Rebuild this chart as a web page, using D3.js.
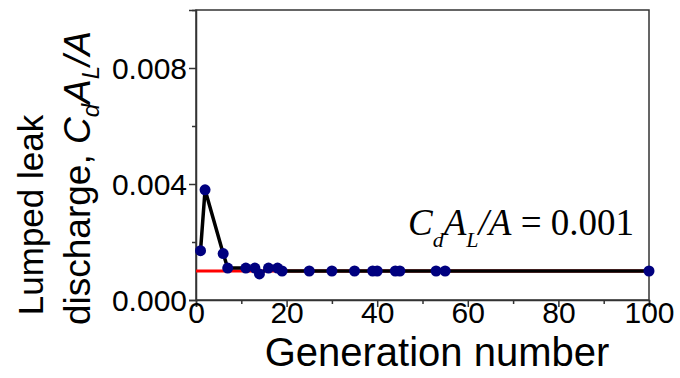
<!DOCTYPE html>
<html>
<head>
<meta charset="utf-8">
<script src="https://cdn.jsdelivr.net/npm/d3@7"></script>
<style>
  html, body { margin: 0; padding: 0; background: #fff; }
  svg { display: block; }
</style>
</head>
<body>
<svg id="chart" width="680" height="378"></svg>
<script>
// Lumped leak discharge per generation
const generations = [1, 2, 6, 7, 11, 13, 14, 16, 18, 19, 25, 30, 35, 39, 40, 44, 45, 53, 55, 100];
const discharge = [0.0017, 0.0038, 0.0016, 0.0011, 0.0011, 0.0011, 0.0009, 0.0011, 0.0011, 0.0010,
                   0.0010, 0.0010, 0.0010, 0.0010, 0.0010, 0.0010, 0.0010, 0.0010, 0.0010, 0.0010];
// Target value drawn as a horizontal reference line
const targetValue = 0.001;
const targetRange = [0, 100];
const xTicks = [0, 20, 40, 60, 80, 100];
const xMinorTicks = [10, 30, 50, 70, 90];
const yTicks = [0, 0.004, 0.008];
const yMinorTicks = [0.002, 0.006, 0.010];

const W = 680, H = 378;
const margin = { left: 196, right: 31, top: 10, bottom: 78 };
const svg = d3.select("#chart");

const x = d3.scaleLinear().domain([0, 100]).range([margin.left, W - margin.right]);
const y = d3.scaleLinear().domain([0, 0.01]).range([H - margin.bottom, margin.top]);

const sans = "'Liberation Sans', Arial, sans-serif";
const serif = "'Liberation Serif', 'Times New Roman', serif";
const axisColor = "#333";

// Frame
svg.append("rect")
  .attr("x", x(0)).attr("y", y(0.01))
  .attr("width", x(100) - x(0)).attr("height", y(0) - y(0.01))
  .attr("fill", "none").attr("stroke", axisColor).attr("stroke-width", 1.5);

// Axes
const xAxis = svg.append("g")
  .attr("transform", `translate(0,${y(0)})`)
  .call(d3.axisBottom(x).tickValues(xTicks).tickFormat(d3.format("d")).tickSize(7).tickPadding(0));
svg.append("g")
  .attr("transform", `translate(0,${y(0)})`)
  .call(d3.axisBottom(x).tickValues(xMinorTicks).tickFormat("").tickSize(4))
  .call(g => g.select(".domain").remove());

const yAxis = svg.append("g")
  .attr("transform", `translate(${x(0)},0)`)
  .call(d3.axisLeft(y).tickValues(yTicks).tickFormat(d3.format(".3f")).tickSize(7).tickPadding(2));
svg.append("g")
  .attr("transform", `translate(${x(0)},0)`)
  .call(d3.axisLeft(y).tickValues(yMinorTicks).tickFormat("").tickSize(4))
  .call(g => g.select(".domain").remove());

svg.selectAll(".domain, .tick line").attr("stroke", axisColor).attr("stroke-width", 1.5);
svg.selectAll(".tick text")
  .attr("font-family", sans).attr("font-size", 30).attr("fill", "#000");
xAxis.selectAll(".tick text").attr("y", 23).attr("dy", 0);
yAxis.selectAll(".tick text").attr("dy", "0.36em");

// Reference line at the target value
svg.append("line")
  .attr("x1", x(targetRange[0])).attr("x2", x(targetRange[1]))
  .attr("y1", y(targetValue)).attr("y2", y(targetValue))
  .attr("stroke", "#ff0000").attr("stroke-width", 3);

// Connecting line
const points = generations.map((g, i) => [g, discharge[i]]);
svg.append("path")
  .datum(points)
  .attr("d", d3.line().x(d => x(d[0])).y(d => y(d[1])))
  .attr("fill", "none").attr("stroke", "#000").attr("stroke-width", 3.5);

// Markers
svg.append("g").selectAll("circle")
  .data(points).join("circle")
  .attr("cx", d => x(d[0])).attr("cy", d => y(d[1]))
  .attr("r", 5.5).attr("fill", "#00007f");

// Axis titles
svg.append("text")
  .attr("x", 437).attr("y", 366)
  .attr("text-anchor", "middle")
  .attr("font-family", sans).attr("font-size", 40)
  .text("Generation number");

svg.append("text")
  .attr("transform", "translate(0,215) rotate(-90)")
  .attr("text-anchor", "middle")
  .attr("font-family", sans).attr("font-size", 35)
  .append("tspan").attr("x", 0).attr("y", 43).text("Lumped leak");

// second line built from pieces so the subscripts sit lower
const line2 = svg.append("text")
  .attr("transform", "translate(0,178) rotate(-90)")
  .attr("text-anchor", "middle")
  .attr("font-family", sans).attr("font-size", 37);
line2.append("tspan").attr("x", 0).attr("y", 90).text("discharge, ");
line2.append("tspan").attr("font-style", "italic").text("C");
line2.append("tspan").attr("font-style", "italic").attr("font-size", 24).attr("dy", 9).text("d");
line2.append("tspan").attr("font-style", "italic").attr("dy", -9).text("A");
line2.append("tspan").attr("font-style", "italic").attr("font-size", 24).attr("dy", 9).text("L");
line2.append("tspan").attr("font-style", "italic").attr("dy", -9).text("/A");

// Annotation of the target value
const note = svg.append("text")
  .attr("x", 408).attr("y", 235)
  .attr("font-family", serif).attr("font-size", 37).attr("fill", "#000");
note.append("tspan").attr("font-style", "italic").text("C");
note.append("tspan").attr("font-style", "italic").attr("font-size", 22).attr("dy", 12).text("d");
note.append("tspan").attr("font-style", "italic").attr("dy", -12).text("A");
note.append("tspan").attr("font-style", "italic").attr("font-size", 22).attr("dy", 12).text("L");
note.append("tspan").attr("font-style", "italic").attr("dy", -12).text("/A");
note.append("tspan").text(" = " + d3.format(".3f")(targetValue));
</script>
</body>
</html>
